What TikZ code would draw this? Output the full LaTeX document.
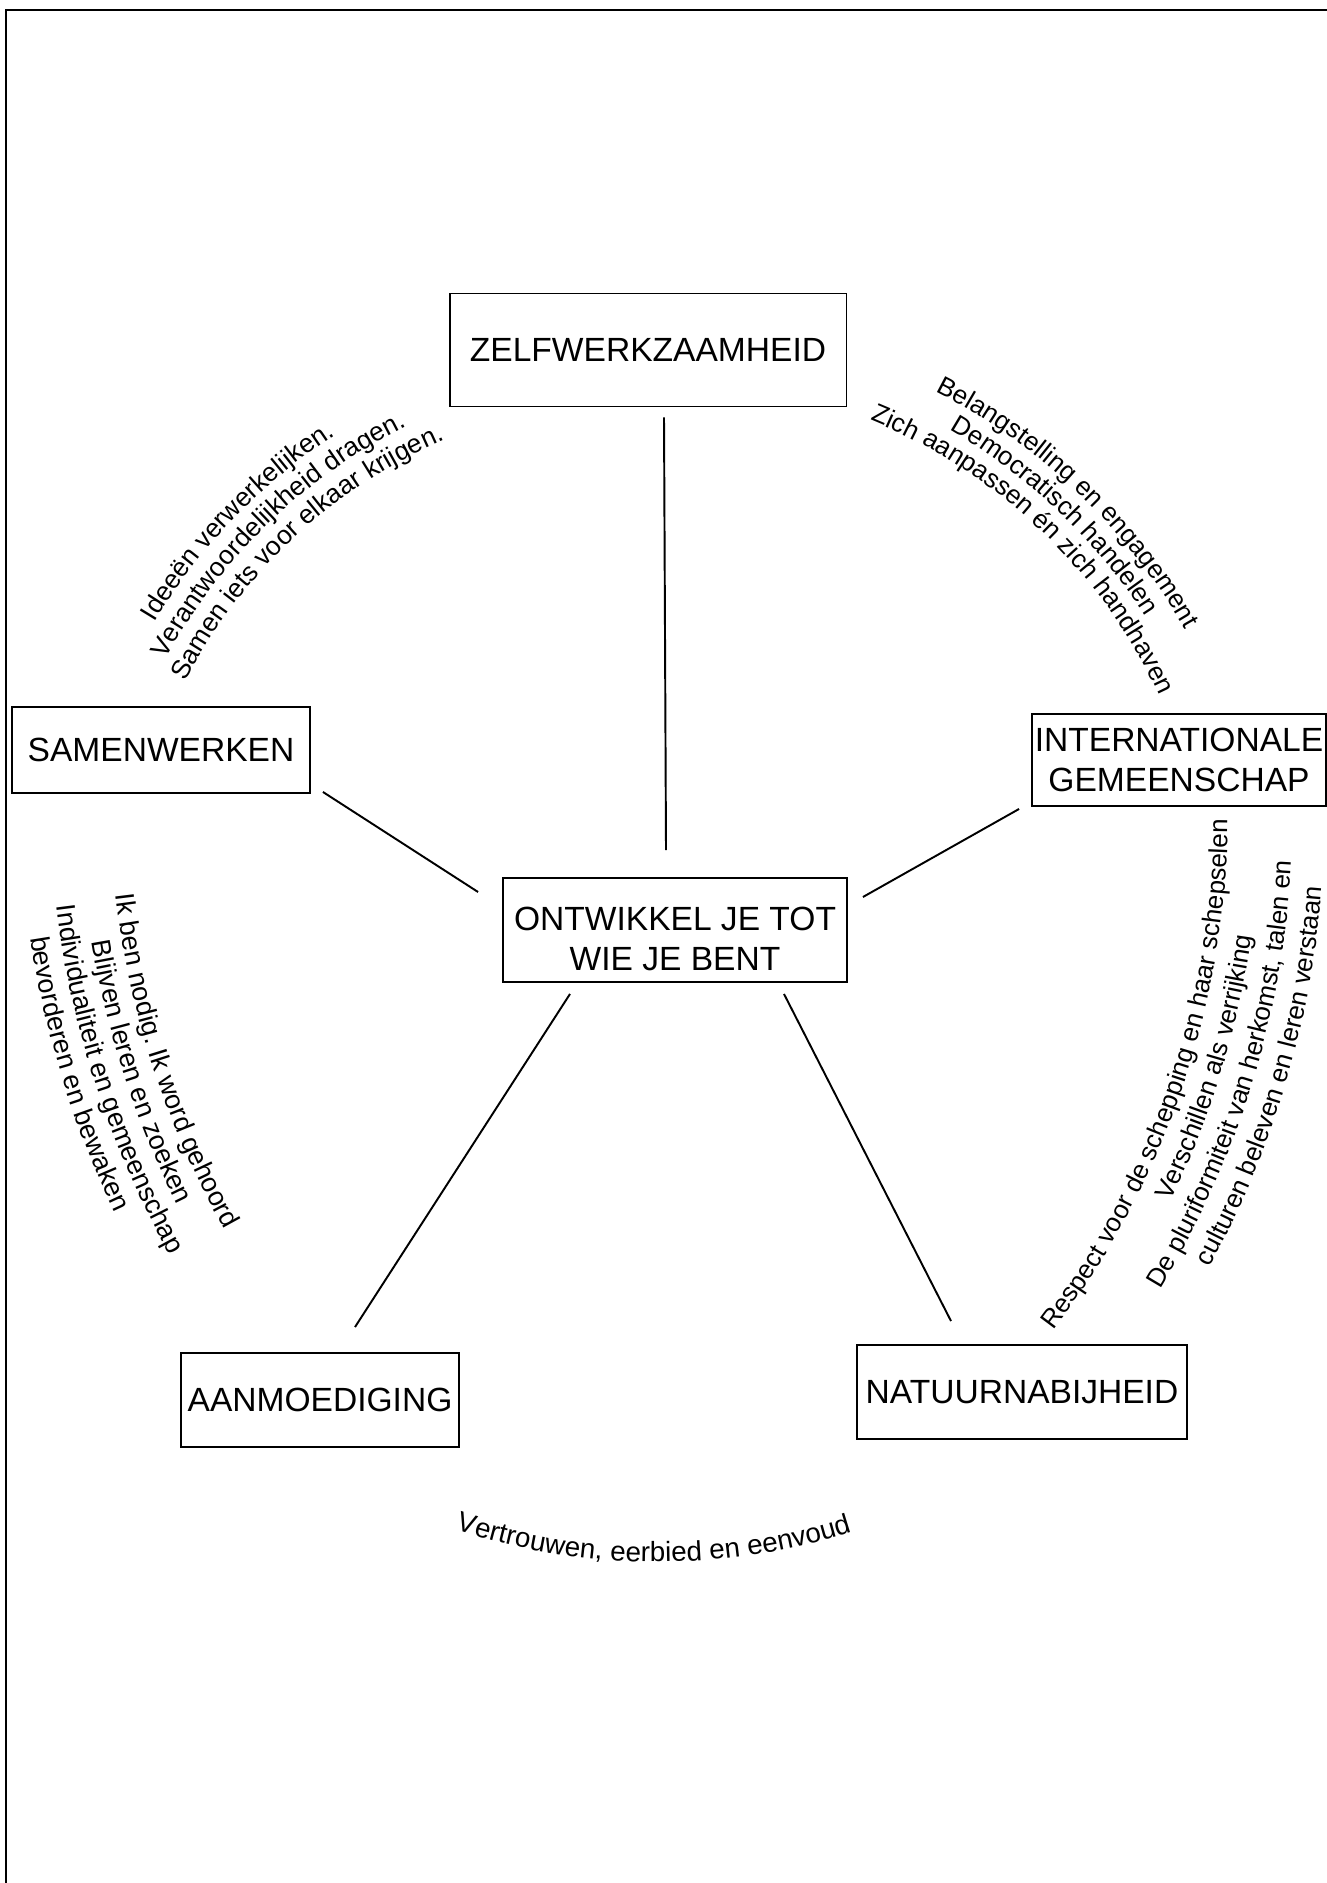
\documentclass[tikz,border=0pt]{standalone}
\usepackage{fontspec}
\setmainfont{Liberation Sans}
\usetikzlibrary{calc,decorations.text}
\newcommand\boxfnt{\fontsize{19.1}{22.7}\selectfont}
\newcommand\arcfnt{\fontsize{\arcsz}{18}\selectfont}
\tikzset{
  box/.style={draw, line width=1.1pt, font=\boxfnt, align=center, inner sep=0pt},
  link/.style={line width=1.1pt},
  arcsize/.store in=\arcsz, arcsize=15,
  arctext/.style={decorate, decoration={text along path, text align=center, text={|\arcfnt|#1}}}
}
\begin{document}
\begin{tikzpicture}[x=0.02cm,y=-0.02cm]
  \useasboundingbox (0,0) rectangle (1327,1883);
  % kader
  \draw[line width=1pt] (6,1883) -- (6,10) -- (1327,10);
  % vakken
  \node[box, minimum width=7.94cm, minimum height=2.26cm] (zelf) at (648,350) {ZELFWERKZAAMHEID};
  \node[box, minimum width=5.96cm, minimum height=1.72cm] (samen) at (161,750) {SAMENWERKEN};
  \node[box, minimum width=5.88cm, minimum height=1.84cm] (inter) at (1179,760) {INTERNATIONALE\\GEMEENSCHAP};
  \node[box, minimum width=6.88cm, minimum height=2.08cm] (kern) at (675,930) {\rule{0pt}{24pt}ONTWIKKEL JE TOT\\WIE JE BENT};
  \node[box, minimum width=5.56cm, minimum height=1.88cm] (aanm) at (320,1400) {AANMOEDIGING};
  \node[box, minimum width=6.6cm, minimum height=1.88cm] (natuur) at (1022,1392) {NATUURNABIJHEID};
  % lijnen naar het midden
  \draw[link] ($(zelf.south)+(16,10)$) -- ($(kern.north)+(-9,-27)$);
  \draw[link] ($(samen.south east)+(12,-2)$) -- ($(kern.west)+(-24,-38)$);
  \draw[link] ($(inter.south west)+(-12,2)$) -- ($(kern.east)+(15,-33)$);
  \draw[link] ($(kern.south)+(-105,11)$) -- ($(aanm.north)+(35,-25)$);
  \draw[link] ($(kern.south)+(109,11)$) -- ($(natuur.north)+(-71,-23)$);
  % teksten langs bogen
  \path[arctext={Ideeën verwerkelijken.}] (650,920) ++(-176:578) arc[start angle=-176, end angle=-96, radius=578];
  \path[arctext={Verantwoordelijkheid dragen.}] (650,920) ++(-174:550) arc[start angle=-174, end angle=-94, radius=550];
  \path[arctext={Samen iets voor elkaar krijgen.}] (650,920) ++(-173:522) arc[start angle=-173, end angle=-93, radius=522];
  \path[arcsize=14.8, arctext={Belangstelling en engagement}] (665,925) ++(-86.4:598) arc[start angle=-86.4, end angle=-6.4, radius=598];
  \path[arcsize=14.8, arctext={Democratisch handelen}] (665,925) ++(-86.4:571) arc[start angle=-86.4, end angle=-6.4, radius=571];
  \path[arcsize=14.8, arctext={Zich aanpassen én zich handhaven}] (665,925) ++(-86.4:545) arc[start angle=-86.4, end angle=-6.4, radius=545];
  \path[arcsize=14.8, arctext={Respect voor de schepping en haar schepselen}] (377,814) ++(48.9:851) arc[start angle=48.9, end angle=-11.1, radius=851];
  \path[arcsize=14.8, arctext={Verschillen als verrijking}] (377,814) ++(47:883) arc[start angle=47, end angle=-13, radius=883];
  \path[arcsize=14.8, arctext={De pluriformiteit van herkomst, talen en}] (377,814) ++(47.1:916) arc[start angle=47.1, end angle=-12.9, radius=916];
  \path[arcsize=14.8, arctext={culturen beleven en leren verstaan}] (377,814) ++(46.5:948) arc[start angle=46.5, end angle=-13.5, radius=948];
  \path[arcsize=15.3, arctext={Ik ben nodig. Ik word gehoord}] (1016,787) ++(187:907) arc[start angle=187, end angle=137, radius=907];
  \path[arcsize=15.3, arctext={Blijven leren en zoeken}] (1016,787) ++(187:937) arc[start angle=187, end angle=137, radius=937];
  \path[arcsize=15.3, arctext={Individualiteit en gemeenschap}] (1016,787) ++(187:967) arc[start angle=187, end angle=137, radius=967];
  \path[arcsize=15.3, arctext={bevorderen en bewaken}] (1016,787) ++(188:997) arc[start angle=188, end angle=138, radius=997];
  \path[arcsize=15.8, arctext={Vertrouwen, eerbied en eenvoud}] (657,920) ++(130.3:642) arc[start angle=130.3, end angle=50.3, radius=642];
\end{tikzpicture}
\end{document}
